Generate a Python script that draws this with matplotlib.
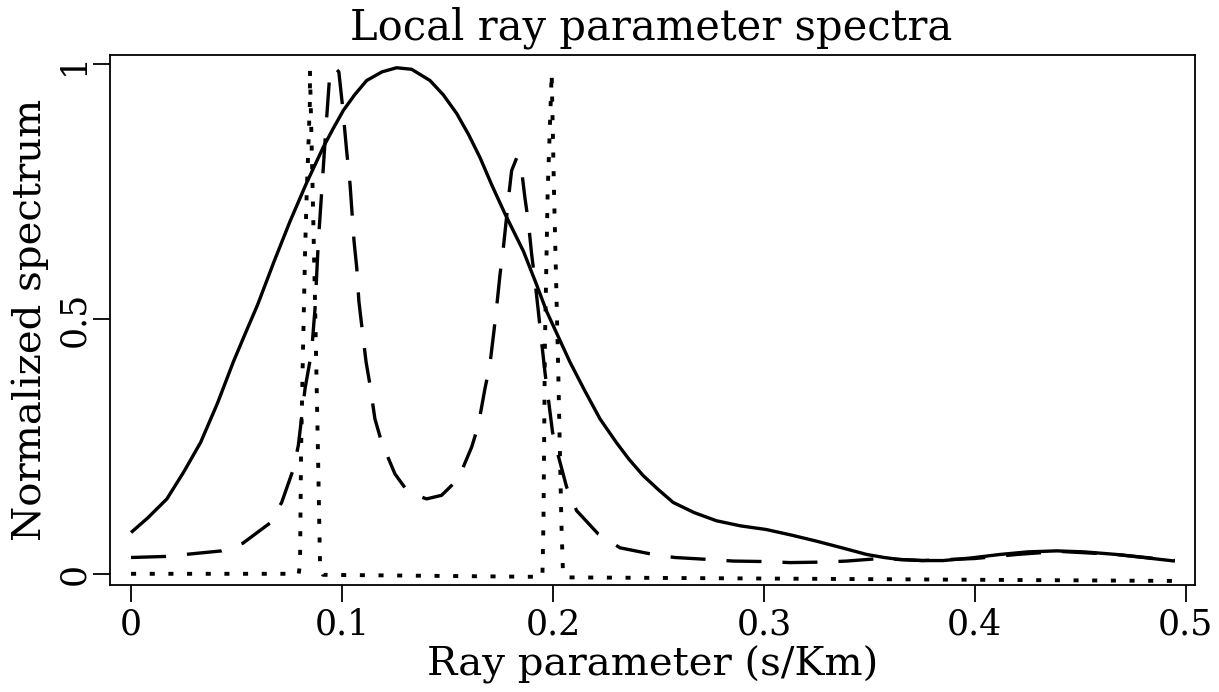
import numpy as np
import matplotlib
matplotlib.use("Agg")
import matplotlib.pyplot as plt

# solid curve
solid_x = [0.0, 0.008, 0.017, 0.025, 0.033, 0.041, 0.0485, 0.054, 0.06, 0.068,
           0.0754, 0.083, 0.0911, 0.096, 0.1006, 0.106, 0.1117, 0.119, 0.1259,
           0.133, 0.1417, 0.148, 0.1544, 0.160, 0.1654, 0.171, 0.1773, 0.186,
           0.192, 0.197, 0.202, 0.208, 0.215, 0.2223, 0.230, 0.236, 0.2427,
           0.25, 0.257, 0.267, 0.2776, 0.289, 0.301, 0.313, 0.325, 0.337,
           0.3487, 0.357, 0.3645, 0.375, 0.385, 0.398, 0.412, 0.425, 0.4387,
           0.452, 0.467, 0.48, 0.4948]
solid_y = [0.081, 0.11, 0.147, 0.20, 0.258, 0.335, 0.416, 0.47, 0.528, 0.615,
           0.692, 0.765, 0.837, 0.875, 0.909, 0.94, 0.968, 0.985, 0.993,
           0.99, 0.968, 0.94, 0.903, 0.862, 0.817, 0.763, 0.706, 0.633,
           0.57, 0.515, 0.47, 0.416, 0.36, 0.304, 0.258, 0.225, 0.193,
           0.165, 0.140, 0.12, 0.104, 0.094, 0.087, 0.076, 0.064, 0.051,
           0.038, 0.032, 0.028, 0.026, 0.026, 0.031, 0.038, 0.043, 0.045,
           0.043, 0.038, 0.032, 0.025]

# dashed curve
dash_x = [0.0, 0.016, 0.043, 0.053, 0.066, 0.0714, 0.077, 0.0793, 0.0825,
          0.0856, 0.0872, 0.0888, 0.0904, 0.0924, 0.094, 0.0962, 0.0985,
          0.1003, 0.1022, 0.1038, 0.1057, 0.107, 0.108, 0.1093, 0.1114,
          0.1133, 0.1156, 0.1188, 0.1251, 0.1314, 0.1401, 0.1472, 0.1551,
          0.1615, 0.1646, 0.1678, 0.1701, 0.172, 0.1736, 0.1749, 0.1765,
          0.178, 0.1793, 0.1804, 0.1828, 0.1848, 0.1867, 0.1883, 0.1899,
          0.1915, 0.193, 0.1946, 0.1962, 0.1978, 0.1998, 0.2025, 0.2065,
          0.2112, 0.2215, 0.2318, 0.2475, 0.2578, 0.2744, 0.2855, 0.3013,
          0.3123, 0.3281, 0.3392, 0.355, 0.375, 0.40, 0.42, 0.44, 0.467, 0.4948]
dash_y = [0.032, 0.034, 0.045, 0.060, 0.100, 0.140, 0.206, 0.252, 0.364,
          0.436, 0.520, 0.653, 0.751, 0.876, 0.968, 0.995, 0.985,
          0.916, 0.830, 0.765, 0.653, 0.600, 0.535, 0.489, 0.416,
          0.370, 0.304, 0.258, 0.196, 0.160, 0.147, 0.154, 0.186,
          0.249, 0.291, 0.364, 0.410, 0.475, 0.535, 0.587, 0.640,
          0.699, 0.751, 0.791, 0.816, 0.804, 0.738, 0.692, 0.627,
          0.574, 0.518, 0.456, 0.396, 0.344, 0.278, 0.232, 0.170,
          0.124, 0.078, 0.051, 0.038, 0.032, 0.028, 0.025, 0.024,
          0.022, 0.023, 0.025, 0.030, 0.026, 0.030, 0.038, 0.044, 0.038, 0.026]

# dotted curve
dot_x = [0.0, 0.0795, 0.0801, 0.0806, 0.0815, 0.0825, 0.0833, 0.084, 0.0848,
         0.0848, 0.0861, 0.0872, 0.0886, 0.0896, 0.091, 0.195, 0.1955,
         0.1962, 0.1975, 0.1994, 0.2005, 0.2025, 0.204, 0.2047, 0.206, 0.4948]
dot_y = [0.0, 0.0, 0.02, 0.24, 0.436, 0.633, 0.751, 0.83, 0.93,
         0.988, 0.751, 0.535, 0.24, 0.016, -0.002, -0.006, 0.10,
         0.45, 0.75, 0.982, 0.75, 0.40, 0.10, 0.01, -0.007, -0.014]

x_ticks = [0, 0.1, 0.2, 0.3, 0.4, 0.5]
x_tick_labels = ["0", "0.1", "0.2", "0.3", "0.4", "0.5"]
y_ticks = [0, 0.5, 1]
y_tick_labels = ["0", "0.5", "1"]

plt.rcParams["font.family"] = ["DejaVu Serif"]

fig = plt.figure(figsize=(12.19, 6.92), dpi=100)
ax = fig.add_axes([0.0902, 0.1546, 0.890, 0.7659])

lw = 2.4
ax.plot(solid_x, solid_y, color="black", lw=lw, solid_capstyle="butt",
        solid_joinstyle="round")
ax.plot(dash_x, dash_y, color="black", lw=lw, dashes=(10.5, 6.3),
        dash_capstyle="butt")
ax.plot(dot_x, dot_y, color="black", lw=2.8, dashes=(1.3, 3.5),
        dash_capstyle="butt")

ax.set_xlim(-0.01, 0.5043)
ax.set_ylim(-0.022, 1.018)

ax.set_xticks(x_ticks)
ax.set_xticklabels(x_tick_labels)
ax.set_yticks(y_ticks)
ax.set_yticklabels(y_tick_labels, rotation=90, va="center")

ax.tick_params(direction="out", length=12, width=1.3, labelsize=25)
ax.tick_params(axis="x", pad=4.5)
ax.tick_params(axis="y", pad=1.5)
for sp in ax.spines.values():
    sp.set_linewidth(1.3)

fig.text(0.534, 1 - 28 / 692, "Local ray parameter spectra", fontsize=30,
         ha="center", va="center")
ax.set_xlabel("Ray parameter (s/Km)", fontsize=29, va="center")
ax.xaxis.set_label_coords(0.5, -0.151)
ax.set_ylabel("Normalized spectrum", fontsize=29, va="center")
ax.yaxis.set_label_coords(-0.0737, 0.5)

fig.savefig("out.png", dpi=100)
